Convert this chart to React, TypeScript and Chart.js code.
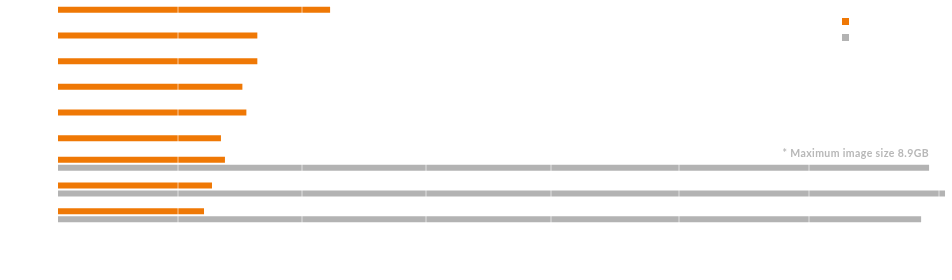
import React, { useEffect, useRef } from "react";
import { Chart, registerables } from "chart.js";

Chart.register(...registerables);

// ---- data ----
const categories = [
  "Image 1",
  "Image 2",
  "Image 3",
  "Image 4",
  "Image 5",
  "Image 6",
  "Image 7",
  "Image 8",
  "Image 9",
];
const seriesNames = ["Download size (GB)", "Image size (GB)"];
const downloadValues = [2.73, 2.0, 2.0, 1.85, 1.89, 1.635, 1.675, 1.545, 1.465];
const imageValues: (number | null)[] = [null, null, null, null, null, null, 8.74, 8.9, 8.66];
const xTickValues = [1.2, 2.45, 3.69, 4.95, 6.23, 7.54, 8.84];
const xMin = 0;
const xMax = 9;
const noteText = "* Maximum image size 8.9GB";

const seriesColors = ["#EF7805", "#B3B3B3"];

export default function App() {
  const canvasRef = useRef<HTMLCanvasElement | null>(null);

  useEffect(() => {
    const canvas = canvasRef.current;
    if (!canvas) return;
    const chart = new Chart(canvas, {
      type: "bar",
      data: {
        labels: categories,
        datasets: [
          {
            label: seriesNames[0],
            data: downloadValues,
            backgroundColor: seriesColors[0],
            borderWidth: 0,
            categoryPercentage: 0.62,
            barPercentage: 0.9,
            maxBarThickness: 6,
            skipNull: true,
          },
          {
            label: seriesNames[1],
            data: imageValues,
            backgroundColor: seriesColors[1],
            borderWidth: 0,
            categoryPercentage: 0.62,
            barPercentage: 0.9,
            maxBarThickness: 6,
            skipNull: true,
          },
        ],
      },
      options: {
        indexAxis: "y",
        responsive: false,
        animation: false,
        layout: { padding: { left: 58, right: 5, top: 10, bottom: 52 } },
        plugins: {
          legend: { display: false },
          tooltip: { enabled: false },
        },
        scales: {
          x: {
            type: "linear",
            min: xMin,
            max: xMax,
            afterBuildTicks: (scale: any) => {
              scale.ticks = xTickValues.map((v) => ({ value: v }));
            },
            ticks: { display: false },
            grid: {
              color: "rgba(255,255,255,0.3)",
              lineWidth: 2,
              z: 1,
              drawTicks: false,
            },
            border: { display: false },
          },
          y: { display: false },
        },
      },
    } as any);
    return () => chart.destroy();
  }, []);

  return (
    <div
      style={{
        position: "fixed",
        left: 0,
        top: 0,
        width: 952,
        height: 280,
        overflow: "hidden",
        background: "#ffffff",
      }}
    >
      <canvas
        ref={canvasRef}
        width={960}
        height={293}
        style={{ position: "absolute", left: 0, top: -13, width: 960, height: 293 }}
      />
      {seriesNames.map((name, i) => (
        <div
          key={name}
          style={{
            position: "absolute",
            left: 842,
            top: 18 + i * 16,
            height: 7,
            display: "flex",
            alignItems: "center",
            whiteSpace: "nowrap",
          }}
        >
          <span style={{ display: "inline-block", width: 7, height: 7, background: seriesColors[i] }} />
          <span
            style={{
              marginLeft: 6,
              color: "#ffffff",
              fontFamily: "Lato, sans-serif",
              fontSize: 10,
              lineHeight: "7px",
            }}
          >
            {name}
          </span>
        </div>
      ))}
      <div
        style={{
          position: "absolute",
          right: 23,
          top: 148,
          fontFamily: "Lato, sans-serif",
          fontWeight: 700,
          fontSize: 10.5,
          lineHeight: "11px",
          letterSpacing: 0.4,
          color: "#B8B8B8",
          whiteSpace: "nowrap",
        }}
      >
        {noteText}
      </div>
    </div>
  );
}
